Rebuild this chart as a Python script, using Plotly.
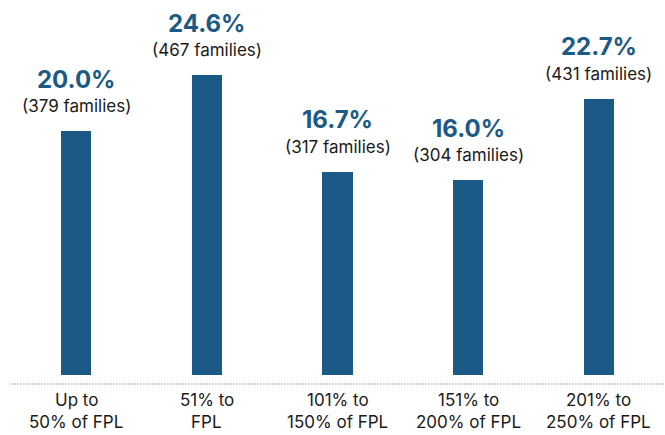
import plotly.graph_objects as go

categories = ["Up to<br>50% of FPL", "51% to<br>FPL", "101% to<br>150% of FPL", "151% to<br>200% of FPL", "201% to<br>250% of FPL"]
percents = [20.0, 24.6, 16.7, 16.0, 22.7]
families = [379, 467, 317, 304, 431]

BLUE = "#1b5a87"
FONT = "Inter"

x = list(range(len(categories)))
fig = go.Figure(go.Bar(x=x, y=percents, width=0.23, marker=dict(color=BLUE, line=dict(width=0)),
                       hoverinfo="skip"))

ann = []
for i, (p, f) in enumerate(zip(percents, families)):
    ann.append(dict(x=i, y=p, xref="x", yref="y", text=f"<b>{p:.1f}%</b>", showarrow=False,
                    yshift=52, font=dict(family=FONT, size=24, color=BLUE)))
    ann.append(dict(x=i, y=p, xref="x", yref="y", text=f"({f} families)", showarrow=False,
                    yshift=25, font=dict(family=FONT, size=17, color="#1a1a1a")))
    for j, line in enumerate(categories[i].split("<br>")):
        ann.append(dict(x=i, y=0, xref="x", yref="y", text=line, showarrow=False,
                        yshift=-25 - 22 * j, font=dict(family=FONT, size=17, color="#1a1a1a")))

fig.update_layout(
    width=665, height=435,
    margin=dict(l=11, r=1, t=0, b=60),
    paper_bgcolor="white", plot_bgcolor="white",
    showlegend=False,
    bargap=0,
    xaxis=dict(range=[-0.5, 4.5], showticklabels=False, showgrid=False, zeroline=False, showline=False, ticks=""),
    yaxis=dict(range=[0, 30.8], visible=False, showgrid=False, zeroline=False),
    annotations=ann,
    shapes=[dict(type="line", xref="paper", yref="paper", x0=0, x1=1, y0=-0.024, y1=-0.024,
                 line=dict(color="#b4b4b4", width=1.5, dash="1.5px,1.5px"))],
)

fig.write_html("out.html", config={"displayModeBar": False},
               post_script="document.body.style.margin='0';document.body.style.overflow='hidden';")
